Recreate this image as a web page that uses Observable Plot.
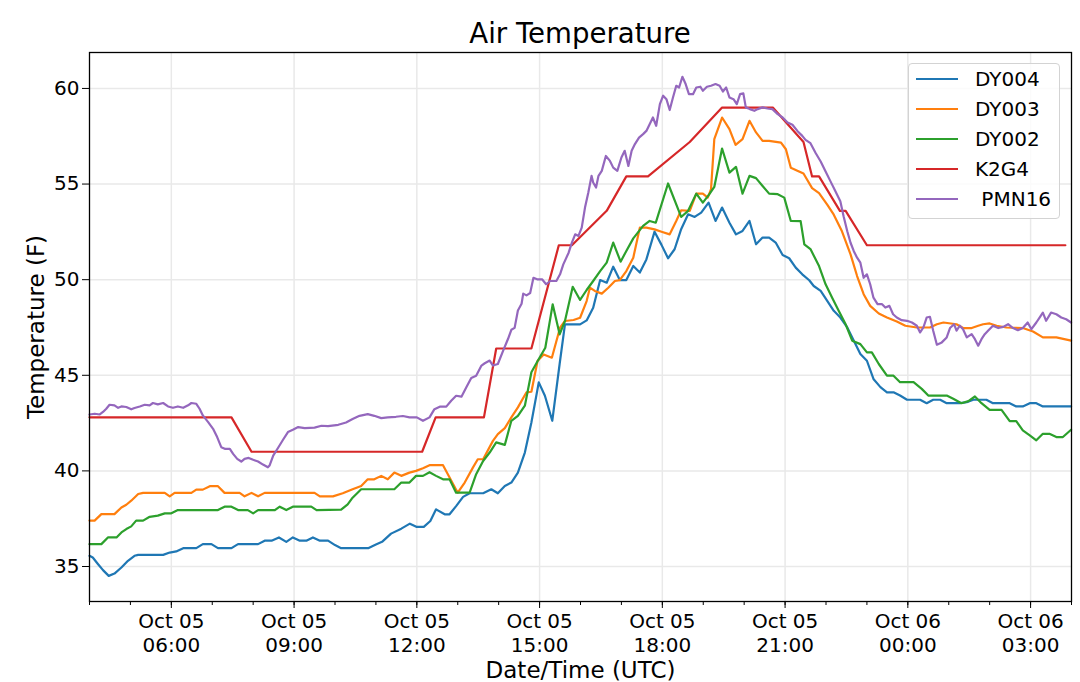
<!DOCTYPE html>
<html><head><meta charset="utf-8">
<script src="https://cdn.jsdelivr.net/npm/d3@7"></script>
<script src="https://cdn.jsdelivr.net/npm/@observablehq/plot@0.6"></script>
<style>
body{margin:0;background:#fff;}
#wrap{position:relative;width:1080px;height:682px;font-family:"DejaVu Sans",sans-serif;color:#000;background:#fff;}
#title{position:absolute;left:89px;width:982px;top:19.5px;text-align:center;font-size:27.6px;line-height:27.6px;z-index:2;}
#chart{position:absolute;left:0;top:40px;z-index:1;}
#legend{position:absolute;left:908px;top:63px;width:152px;height:156px;box-sizing:border-box;border:1px solid #d3d3d3;border-radius:4px;background:rgba(255,255,255,0.8);z-index:3;}
.row{position:absolute;left:0;height:30px;width:100%;}
.row svg{position:absolute;left:7px;top:0;}
.row span{position:absolute;left:66px;top:0;line-height:30px;font-size:20px;white-space:pre;}
</style></head>
<body>
<div id="wrap"><div id="chart"></div><div id="title">Air Temperature</div><div id="legend"></div></div>
<script>
// Series names and colours (legend order)
const seriesNames = ["DY004", "DY003", "DY002", "K2G4", " PMN16"];
const seriesColors = ["#1f77b4", "#ff7f0e", "#2ca02c", "#d62728", "#9467bd"];

// Time of each reading in hours after Oct 05 04:00 UTC, and temperature (F)
const dy004Hours = [0,0.08,0.21,0.33,0.47,0.61,0.78,0.94,1.10,1.19,1.80,1.96,2.12,2.29,2.61,2.77,2.98,3.14,3.47,3.63,4.12,4.28,4.45,4.63,4.81,4.97,5.14,5.30,5.46,5.63,5.83,6.0,6.15,6.81,7.0,7.15,7.37,7.62,7.83,8.0,8.17,8.33,8.47,8.68,8.80,8.96,9.13,9.29,9.62,9.82,9.98,10.15,10.31,10.47,10.64,10.80,10.98,11.13,11.31,11.49,11.62,11.79,11.99,12.15,12.31,12.48,12.64,12.80,12.96,13.12,13.29,13.45,13.61,13.81,13.98,14.14,14.30,14.46,14.63,14.79,14.95,15.13,15.30,15.46,15.64,15.80,15.96,16.13,16.29,16.45,16.61,16.77,16.94,17.10,17.26,17.42,17.59,17.70,17.87,18.03,18.19,18.35,18.52,18.68,18.84,19.0,19.16,19.33,19.49,19.65,19.81,19.98,20.30,20.46,20.62,20.79,20.95,21.27,21.44,21.60,21.92,22.08,22.49,22.65,22.81,22.98,23.14,23.30,23.99];
const dy004Temps = [35.56,35.47,35.12,34.81,34.51,34.63,34.95,35.3,35.56,35.61,35.61,35.73,35.79,35.96,35.96,36.17,36.17,35.96,35.96,36.17,36.17,36.35,36.35,36.52,36.29,36.52,36.35,36.35,36.52,36.35,36.35,36.12,35.96,35.96,36.15,36.29,36.72,36.98,37.24,37.07,37.07,37.38,37.99,37.73,37.73,38.16,38.64,38.83,38.83,39.04,38.83,39.21,39.39,39.91,40.96,42.53,44.63,43.93,42.62,45.59,47.66,47.66,47.66,47.87,48.53,49.98,49.84,50.68,49.98,49.98,50.72,50.37,51.06,52.51,51.82,51.12,51.59,52.64,53.42,53.28,53.51,54.03,53.07,53.77,52.98,52.37,52.55,53.07,51.85,52.2,52.2,51.94,51.29,51.12,50.63,50.28,49.97,49.67,49.41,48.89,48.37,48.02,47.5,46.81,46.11,45.76,44.81,44.38,44.11,44.11,43.94,43.72,43.72,43.54,43.72,43.72,43.54,43.54,43.59,43.72,43.72,43.54,43.54,43.37,43.37,43.54,43.54,43.37,43.37];

const dy003Hours = [0,0.125,0.29,0.61,0.78,0.90,1.02,1.19,1.31,1.84,1.96,2.08,2.49,2.61,2.77,2.94,3.14,3.30,3.67,3.79,3.96,4.12,4.28,5.50,5.63,5.95,6.19,6.43,6.64,6.80,6.96,7.13,7.29,7.45,7.62,7.82,7.98,8.15,8.31,8.64,9.0,9.17,9.37,9.49,9.62,9.86,9.98,10.15,10.31,10.47,10.68,10.80,10.95,11.10,11.30,11.50,11.62,11.83,11.99,12.15,12.23,12.35,12.52,12.68,12.84,12.96,13.12,13.29,13.45,13.61,13.81,13.98,14.18,14.34,14.46,14.67,14.83,14.99,15.11,15.19,15.27,15.46,15.64,15.79,15.96,16.13,16.29,16.45,16.61,16.90,17.02,17.14,17.30,17.45,17.66,17.83,18.03,18.19,18.39,18.60,18.76,18.92,19.08,19.29,19.49,19.73,19.94,20.22,20.54,20.71,20.87,21.19,21.35,21.56,21.72,21.84,22.0,22.17,22.41,22.81,23.06,23.30,23.63,23.99];
const dy003Temps = [37.4,37.4,37.74,37.74,38.09,38.23,38.44,38.79,38.85,38.85,38.67,38.85,38.85,39.02,39.02,39.2,39.2,38.85,38.85,38.67,38.85,38.67,38.85,38.85,38.67,38.67,38.83,39.04,39.21,39.56,39.56,39.74,39.56,39.91,39.74,39.91,40.0,40.14,40.3,40.3,38.86,39.39,40.17,40.61,40.61,41.57,41.92,42.24,42.8,43.32,44.11,44.14,45.75,46.09,45.92,47.49,47.84,47.89,48.01,48.88,49.58,49.41,49.27,49.58,49.93,49.98,50.45,51.15,52.72,52.72,52.63,52.51,52.37,53.07,53.63,53.6,54.5,54.5,54.29,54.73,57.35,58.48,57.87,57.05,57.35,58.31,57.7,57.26,57.26,57.17,56.82,55.85,55.7,55.55,54.79,54.53,53.92,53.4,52.53,51.32,50.19,49.24,48.63,48.23,48.02,47.81,47.59,47.5,47.5,47.67,47.76,47.67,47.47,47.47,47.59,47.67,47.71,47.59,47.5,47.47,47.29,46.98,46.98,46.81];

const dy002Hours = [0,0.29,0.45,0.66,0.78,0.90,1.02,1.14,1.31,1.47,1.67,1.84,2.0,2.16,3.14,3.30,3.47,3.63,3.87,4.0,4.12,4.53,4.65,4.81,4.97,5.42,5.55,6.15,6.31,6.43,6.64,7.45,7.62,7.82,7.98,8.15,8.31,8.47,8.64,8.80,8.96,9.29,9.45,9.62,9.78,9.94,10.15,10.31,10.47,10.64,10.80,10.96,11.14,11.32,11.49,11.62,11.81,11.99,12.15,12.31,12.48,12.64,12.80,12.98,13.12,13.29,13.53,13.69,13.84,14.14,14.46,14.63,14.83,14.99,15.15,15.27,15.46,15.64,15.80,15.96,16.13,16.29,16.45,16.61,16.82,16.98,17.14,17.38,17.47,17.62,17.83,17.99,18.15,18.31,18.48,18.64,18.84,19.0,19.12,19.29,19.49,19.65,19.81,20.14,20.34,20.50,20.95,21.11,21.31,21.48,21.64,21.80,22.0,22.29,22.49,22.65,22.81,22.98,23.14,23.30,23.46,23.63,23.79,23.99];
const dy002Temps = [36.17,36.17,36.52,36.52,36.78,36.96,37.1,37.4,37.4,37.6,37.66,37.78,37.78,37.95,37.95,38.13,38.13,37.95,37.95,37.78,37.95,37.95,38.13,37.95,38.13,38.13,37.95,37.97,38.25,38.6,39.04,39.04,39.39,39.39,39.74,39.74,39.93,39.74,39.56,39.56,38.86,38.86,39.83,40.52,40.96,41.49,41.36,42.62,42.88,43.41,45.16,45.77,46.44,48.71,47.14,47.84,49.63,48.94,49.46,49.93,50.45,50.89,51.94,50.94,51.5,52.16,52.81,53.07,52.98,55.03,53.28,53.6,54.5,54.03,54.47,54.85,56.86,55.6,55.9,54.5,55.43,55.31,54.9,54.5,54.47,54.29,53.07,53.06,51.85,51.6,50.71,49.76,49.06,48.37,47.67,46.81,46.63,46.2,46.2,45.59,44.98,44.98,44.64,44.64,44.29,43.94,43.94,43.77,43.54,43.65,43.89,43.54,43.19,43.19,42.6,42.6,42.12,41.86,41.6,41.94,41.94,41.77,41.77,42.15];

const k2g4Hours = [0,3.47,3.96,8.13,8.46,9.64,9.94,10.80,11.47,11.79,12.64,13.12,13.65,14.67,15.46,16.70,17.45,17.66,17.83,18.34,18.48,19.0,23.85];
const k2g4Temps = [42.8,42.8,41.0,41.0,42.8,42.8,46.4,46.4,51.8,51.8,53.6,55.4,55.4,57.2,59.0,59.0,57.2,55.4,55.4,53.6,53.6,51.8,51.8];

const pmn16Hours = [0,0.13,0.25,0.33,0.41,0.49,0.61,0.70,0.78,0.90,1.02,1.10,1.23,1.35,1.47,1.55,1.67,1.80,1.92,2.04,2.16,2.29,2.41,2.49,2.61,2.69,2.77,2.90,3.02,3.12,3.22,3.32,3.43,3.51,3.61,3.71,3.79,3.89,4.0,4.12,4.24,4.36,4.40,4.49,4.61,4.73,4.85,4.97,5.10,5.26,5.50,5.67,5.83,6.08,6.27,6.43,6.60,6.80,6.96,7.13,7.29,7.49,7.66,7.82,8.0,8.15,8.31,8.43,8.56,8.72,8.84,8.96,9.09,9.21,9.33,9.45,9.58,9.66,9.78,9.86,9.98,10.11,10.23,10.31,10.39,10.47,10.56,10.60,10.68,10.77,10.85,10.94,11.06,11.16,11.26,11.41,11.50,11.58,11.71,11.79,11.87,11.95,12.03,12.11,12.19,12.27,12.31,12.38,12.44,12.52,12.62,12.72,12.80,12.90,13.0,13.08,13.17,13.25,13.33,13.43,13.53,13.61,13.69,13.77,13.85,13.94,14.02,14.10,14.18,14.26,14.34,14.41,14.49,14.57,14.65,14.75,14.83,14.93,14.99,15.09,15.19,15.30,15.40,15.48,15.56,15.64,15.74,15.82,15.90,15.98,16.04,16.14,16.25,16.33,16.45,16.57,16.69,16.82,16.94,17.06,17.18,17.30,17.42,17.50,17.62,17.75,17.87,17.99,18.11,18.23,18.35,18.43,18.52,18.60,18.68,18.76,18.84,18.92,19.0,19.08,19.16,19.26,19.37,19.45,19.55,19.64,19.73,19.85,19.98,20.10,20.22,20.30,20.38,20.46,20.54,20.62,20.71,20.83,20.95,21.03,21.13,21.19,21.27,21.35,21.44,21.56,21.64,21.72,21.80,21.88,21.96,22.08,22.21,22.33,22.45,22.57,22.69,22.81,22.93,23.02,23.14,23.22,23.30,23.38,23.50,23.63,23.75,23.87,23.99];
const pmn16Temps = [42.95,42.99,42.95,43.08,43.25,43.46,43.43,43.3,43.37,43.34,43.22,43.29,43.37,43.46,43.43,43.55,43.48,43.55,43.37,43.3,43.37,43.3,43.43,43.55,43.51,43.25,42.9,42.55,42.2,41.77,41.24,41.15,41.15,40.89,40.63,40.49,40.63,40.68,40.58,40.49,40.33,40.19,40.28,40.8,41.21,41.63,42.03,42.15,42.29,42.24,42.26,42.36,42.34,42.41,42.53,42.71,42.88,42.97,42.88,42.76,42.8,42.83,42.87,42.8,42.8,42.62,42.8,43.23,43.36,43.36,43.67,43.93,43.88,44.37,44.86,44.98,45.51,45.63,45.77,45.51,45.59,46.29,46.91,47.38,47.48,48.39,48.74,49.27,49.18,49.3,50.1,50.02,50.02,49.76,49.93,49.93,50.28,50.8,51.41,51.94,52.37,52.29,52.72,53.77,54.55,55.43,55.08,54.82,55.43,55.69,56.47,56.21,55.86,55.69,56.39,56.74,55.95,56.74,57.09,57.43,57.61,57.78,58.13,58.48,58.05,59.18,59.62,59.44,58.87,59.53,60.14,60.05,60.61,60.23,59.7,59.7,60.05,60.09,59.88,60.09,60.14,60.23,60.14,59.84,60.05,59.53,59.44,59.18,59.7,59.74,59.01,58.92,58.83,58.92,59.01,58.95,58.92,58.66,58.48,58.22,58.1,57.78,57.52,57.31,57.14,56.61,56.18,55.66,55.14,54.62,54.1,53.32,52.53,51.93,51.49,51.15,50.89,50.1,50.28,49.76,49.06,48.72,48.72,48.54,48.63,48.19,48.02,47.88,47.85,47.76,47.59,47.24,47.5,48.02,48.06,47.33,46.6,46.72,46.98,47.47,47.67,47.33,47.59,47.41,46.98,47.15,46.89,46.55,46.89,47.15,47.33,47.59,47.47,47.53,47.67,47.47,47.36,47.47,47.76,47.41,47.76,48.02,48.28,47.85,48.28,48.19,48.02,47.93,47.76];

// Axis tick values
const yTicks = [35, 40, 45, 50, 55, 60];
const yDomain = [33.17, 61.88];
const spanHours = 24;

const start = Date.UTC(2019, 9, 5, 4, 0);
const toDate = h => new Date(start + Math.round(h * 3600000));
const seriesData = [
  [dy004Hours, dy004Temps], [dy003Hours, dy003Temps], [dy002Hours, dy002Temps],
  [k2g4Hours, k2g4Temps], [pmn16Hours, pmn16Temps]
];
const rows = seriesData.flatMap(([hs, ts], i) => hs.map((h, j) => ({series: seriesNames[i], time: toDate(h), temp: ts[j]})));
const xDomain = [toDate(0), toDate(spanHours)];
const majorTicks = d3.utcHour.every(3).range(xDomain[0], xDomain[1]);
const minorTicks = d3.utcHour.range(xDomain[0], new Date(+xDomain[1] + 1));
const fmtDay = d3.utcFormat("%b %d"), fmtTime = d3.utcFormat("%H:%M");

const chart = Plot.plot({
  width: 1080, height: 642,
  marginLeft: 89, marginRight: 9, marginTop: 12, marginBottom: 81,
  style: {fontFamily: "DejaVu Sans", fontSize: "20px", color: "#000", background: "transparent", overflow: "visible"},
  x: {type: "utc", domain: xDomain},
  y: {domain: yDomain},
  color: {domain: seriesNames, range: seriesColors},
  marks: [
    Plot.gridX(majorTicks, {stroke: "#e9e9e9", strokeOpacity: 1, strokeWidth: 1.5}),
    Plot.gridY(yTicks, {stroke: "#e9e9e9", strokeOpacity: 1, strokeWidth: 1.5}),
    Plot.line(rows, {x: "time", y: "temp", z: "series", stroke: "series", strokeWidth: 2.2, strokeLinejoin: "round"}),
    Plot.frame({stroke: "#000", strokeWidth: 1.3}),
    Plot.axisX(minorTicks, {tickSize: 4, tickFormat: () => "", label: null}),
    Plot.axisX(majorTicks, {tickSize: 7, tickPadding: 2, lineHeight: 1.2, label: null,
      tickFormat: d => fmtDay(d) + "\n" + fmtTime(d)}),
    Plot.axisY(yTicks, {tickSize: 7, tickPadding: 3, label: null, tickFormat: d => String(d)}),
    Plot.text(["Temperature (F)"], {frameAnchor: "left", dx: -53, rotate: -90, textAnchor: "middle", lineAnchor: "middle", fontSize: 23}),
    Plot.text(["Date/Time (UTC)"], {frameAnchor: "bottom", dy: 76, textAnchor: "middle", lineAnchor: "bottom", fontSize: 23})
  ]
});
document.getElementById("chart").appendChild(chart);

const legend = document.getElementById("legend");
seriesNames.forEach((name, i) => {
  const row = document.createElement("div");
  row.className = "row";
  row.style.top = (i * 30) + "px";
  row.innerHTML = `<svg width="44" height="30"><line x1="0" x2="42" y1="15" y2="15" stroke="${seriesColors[i]}" stroke-width="2.2"/></svg><span></span>`;
  row.querySelector("span").textContent = name;
  legend.appendChild(row);
});
</script>
</body></html>
